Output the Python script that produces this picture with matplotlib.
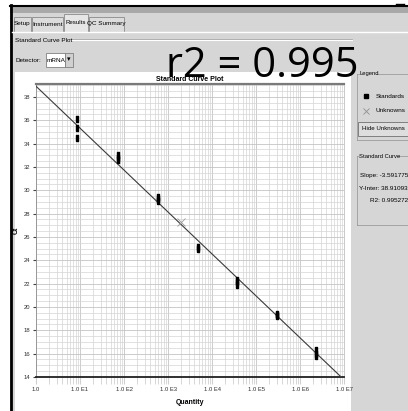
import matplotlib.pyplot as plt
import matplotlib.patches as patches
from matplotlib.ticker import FixedLocator, MultipleLocator, LogLocator, NullFormatter
import numpy as np

# standards (quantity, Ct)
std_qty = [8.4, 8.4, 8.4, 74, 74, 74, 583, 583, 583, 4730, 4730,
           37600, 37600, 37600, 295000, 295000, 295000, 2.3e6, 2.3e6, 2.3e6]
std_ct = [36.1, 35.3, 34.5, 33.0, 32.8, 32.6, 29.4, 29.25, 29.1, 25.1, 25.0,
          22.3, 22.1, 21.9, 19.4, 19.3, 19.2, 16.3, 16.0, 15.8]
unk_qty = [1950]
unk_ct = [27.25]

slope = -3.591775
intercept = 38.91093
r2 = 0.995272

x_ticks = [1, 1e1, 1e2, 1e3, 1e4, 1e5, 1e6, 1e7]
x_labels = ["1.0", "1.0 E1", "1.0 E2", "1.0 E3", "1.0 E4", "1.0 E5", "1.0 E6", "1.0 E7"]
y_ticks = list(range(14, 40, 2))

tabs = ["Setup", "Instrument", "Results", "QC Summary"]
tab_x = [14, 32, 64, 89, 125]

W, H = 408, 411
ui_font = ["Liberation Sans", "DejaVu Sans"]
bg = "#d6d6d6"

fig = plt.figure(figsize=(W / 100, H / 100), dpi=100)
fig.patch.set_facecolor(bg)


def fx(x):
    return x / W


def fy(y):
    return 1 - y / H


def rect(x0, y0, x1, y1, fc, ec="none", lw=0.8, z=-2):
    fig.add_artist(patches.Rectangle((fx(x0), fy(y1)), fx(x1) - fx(x0), fy(y0) - fy(y1),
                                     transform=fig.transFigure, fc=fc, ec=ec, lw=lw, zorder=z))


def hline(x0, x1, y, c, lw=0.8):
    fig.add_artist(plt.Line2D([fx(x0), fx(x1)], [fy(y), fy(y)], color=c, lw=lw, zorder=-1))


def vline(x, y0, y1, c, lw=0.8):
    fig.add_artist(plt.Line2D([fx(x), fx(x)], [fy(y0), fy(y1)], color=c, lw=lw, zorder=-1))


def txt(x, y, s, size=4.6, **kw):
    fig.text(fx(x), fy(y), s, fontsize=size, family=ui_font, va="center", **kw)


# window frame
rect(0, 0, W, 5, "white")
rect(0, 0, 10, H, "white")
rect(10, 7, W, 13, "#a8a8a8")
hline(10, W, 6, "black", lw=1.5)
vline(11, 5, H, "black", lw=2)
hline(396, 404, 4, "black", lw=1)

# tabs
for i, t in enumerate(tabs):
    top = 14 if t == "Results" else 17
    rect(tab_x[i], top, tab_x[i + 1] - 1, 32, "#dcdcdc" if t != "Results" else "#e6e6e6",
         ec="#8a8a8a", lw=0.6)
    txt((tab_x[i] + tab_x[i + 1] - 1) / 2, 24 if t != "Results" else 22, t,
        size=4.6 if t != "Results" else 4.4, ha="center")
hline(12, W, 32.5, "white", lw=1)

# group box "Standard Curve Plot"
txt(15, 40, "Standard Curve Plot")
hline(70, 352, 40, "white", lw=0.8)
hline(70, 352, 39, "#a0a0a0", lw=0.5)
txt(16, 60, "Detector:")
rect(46, 53, 65, 67, "white", ec="#808080", lw=0.6)
txt(47, 60, "mRNA")
rect(65, 53, 73, 67, "#d0d0d0", ec="#808080", lw=0.6)
txt(69, 60, "\u25be", size=5, ha="center")

# white plot panel
rect(15, 72, 351, H, "white")

# right panel: legend
hline(357, 359, 74, "#909090", lw=0.5)
hline(376, W, 74, "#909090", lw=0.5)
vline(357, 74, 140, "#909090", lw=0.5)
txt(359.5, 74, "Legend", size=4.2)
fig.add_artist(plt.Line2D([fx(366)], [fy(96)], marker="s", ms=2.5, color="black"))
txt(376, 96, "Standards")
fig.add_artist(plt.Line2D([fx(366)], [fy(111)], marker="x", ms=4, mew=0.6, color="#909090"))
txt(376, 111, "Unknowns")
rect(358, 122, 410, 136, "#dedede", ec="#707070", lw=0.6)
txt(362, 129, "Hide Unknowns", size=4.4)
hline(357, W, 140, "#909090", lw=0.5)

# right panel: standard curve box
hline(357, 359, 156, "#909090", lw=0.5)
hline(397, W, 156, "#909090", lw=0.5)
vline(357, 156, 225, "#909090", lw=0.5)
hline(357, W, 225, "#909090", lw=0.5)
txt(359, 156, "Standard Curve", size=4.2)
txt(408, 176, "Slope: %.6f" % slope, ha="right")
txt(408, 188, "Y-Inter: %.5f" % intercept, ha="right")
txt(408, 200, "R2: %.6f" % r2, ha="right")

# plot axes
ax = fig.add_axes([fx(36), fy(377), fx(344) - fx(36), fy(84) - fy(377)])
ax.set_zorder(2)
ax.set_facecolor("white")
ax.set_xscale("log")
ax.set_xlim(1, 1e7)
ax.set_ylim(14, 39.1)

ax.xaxis.set_major_locator(FixedLocator(x_ticks))
ax.set_xticklabels(x_labels)
ax.xaxis.set_minor_locator(LogLocator(base=10, subs=np.arange(2, 10), numticks=20))
ax.xaxis.set_minor_formatter(NullFormatter())
ax.set_yticks(y_ticks)
ax.yaxis.set_minor_locator(MultipleLocator(0.5))

ax.grid(True, which="major", color="#c4c4c4", lw=0.6)
ax.grid(True, which="minor", color="#d4d4d4", lw=0.5)
ax.set_axisbelow(True)

for lab in ax.get_xticklabels() + ax.get_yticklabels():
    lab.set_family(ui_font)
    lab.set_fontsize(4.2)
    lab.set_color("#303030")
ax.tick_params(axis="x", which="both", length=5, color="#d0d0d0", pad=2)
ax.tick_params(axis="y", which="major", length=2, color="#404040", pad=2)
ax.tick_params(axis="y", which="minor", length=0)

ax.spines["top"].set_color("#7a7a7a")
ax.spines["top"].set_linewidth(1.6)
ax.spines["bottom"].set_color("#202020")
ax.spines["bottom"].set_linewidth(1.3)
ax.spines["left"].set_color("#909090")
ax.spines["left"].set_linewidth(0.6)
ax.spines["right"].set_color("#c0c0c0")
ax.spines["right"].set_linewidth(0.6)

# fitted line
x_end = 10 ** ((14 - intercept) / slope)
xs = np.array([1, x_end])
ax.plot(xs, slope * np.log10(xs) + intercept, color="#3a3a3a", lw=0.8, zorder=3)

rect_marker = [(-0.45, -1), (0.45, -1), (0.45, 1), (-0.45, 1), (-0.45, -1)]
ax.plot(std_qty, std_ct, ls="none", marker=rect_marker, ms=4, color="black", zorder=4)
ax.plot(unk_qty, unk_ct, ls="none", marker="x", ms=6, mew=0.6, color="#9a9a9a", zorder=4)

ax.set_title("Standard Curve Plot", fontsize=5, fontweight="bold", family=ui_font, pad=2)
ax.set_xlabel("Quantity", fontsize=5, fontweight="bold", family=ui_font, labelpad=5)
ax.set_ylabel("Ct", fontsize=5, fontweight="bold", family=ui_font, labelpad=3)

# big overlay annotation
fig.text(fx(166), fy(77), "r2 = 0.995", fontsize=30, family=["Open Sans", "DejaVu Sans"],
         va="baseline", ha="left", color="black", zorder=10)

fig.savefig("out.png", dpi=100, facecolor=fig.get_facecolor())
